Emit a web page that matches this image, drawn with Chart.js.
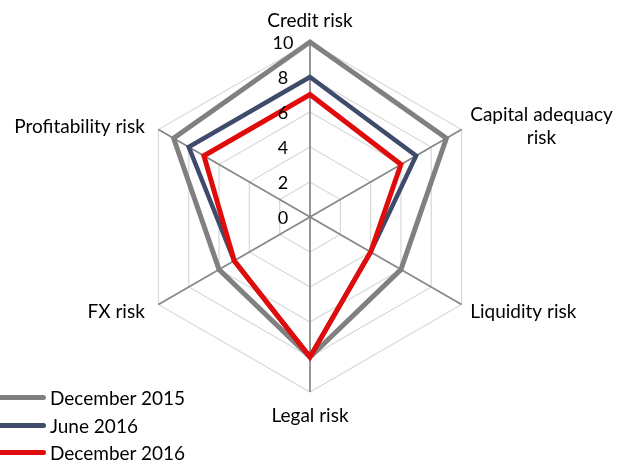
<!DOCTYPE html>
<html>
<head>
<meta charset="utf-8">
<script src="https://cdn.jsdelivr.net/npm/chart.js@4/dist/chart.umd.min.js"></script>
<style>
    html, body { margin: 0; padding: 0; background: #fff; }
    #wrap { position: relative; width: 619px; height: 464px; }
    #legend { position: absolute; left: 0; top: 384px; font: 19px Lato, sans-serif; color: #000; }
    #legend .row { display: flex; align-items: center; height: 27.5px; }
    #legend .swatch { width: 46px; height: 5px; border-radius: 0 3px 3px 0; margin-right: 4px; }
</style>
</head>
<body>
<div id="wrap">
    <canvas id="chart"></canvas>
    <div id="legend"></div>
</div>
<script>
    'use strict';

    var categories = ['Credit risk', ['Capital adequacy', 'risk'], 'Liquidity risk', 'Legal risk', 'FX risk', 'Profitability risk'];
    var seriesNames = ['December 2015', 'June 2016', 'December 2016'];
    var december2015 = [10, 9, 6, 8, 6, 9];
    var june2016 = [8, 7, 4, 8, 5, 8];
    var december2016 = [7, 6, 4, 8, 5, 7];
    var tickValues = [0, 2, 4, 6, 8, 10];

    var labelFont = '19px Lato, sans-serif';
    var tickFont = '18px Lato, sans-serif';

    // draws tick numbers beside the vertical spoke and centred category labels
    var labelsPlugin = {
        id: 'riskLabels',
        afterDraw: function (chart) {
            var scale = chart.scales.r;
            var ctx = chart.ctx;
            ctx.save();
            ctx.fillStyle = '#000';

            ctx.font = tickFont;
            ctx.textAlign = 'center';
            ctx.textBaseline = 'middle';
            tickValues.forEach(function (value) {
                var y = scale.yCenter - scale.getDistanceFromCenterForValue(value);
                ctx.fillText(String(value), scale.xCenter - 27, y + 1);
            });

            ctx.font = labelFont;
            var lineHeight = 23;
            chart.data.labels.forEach(function (label, i) {
                var lines = Array.isArray(label) ? label : [label];
                var pos = scale.getPointPosition(i, scale.drawingArea + 10);
                var widths = lines.map(function (l) { return ctx.measureText(l).width; });
                var blockWidth = Math.max.apply(null, widths);
                var blockHeight = lines.length * lineHeight;
                var dx = pos.x - scale.xCenter;
                var dy = pos.y - scale.yCenter;
                var left;
                if (dx > 1) {
                    left = pos.x;
                } else if (dx < -1) {
                    left = pos.x - blockWidth - 5;
                } else {
                    left = pos.x - blockWidth / 2;
                }
                var top;
                if (Math.abs(dx) <= 1 && dy < 0) {
                    top = pos.y - blockHeight;
                } else if (Math.abs(dx) <= 1 && dy > 0) {
                    top = pos.y + 2;
                } else {
                    top = pos.y - blockHeight / 2 + 2;
                }
                ctx.textAlign = 'center';
                ctx.textBaseline = 'middle';
                lines.forEach(function (l, k) {
                    ctx.fillText(l, left + blockWidth / 2, top + lineHeight * (k + 0.5));
                });
            });
            ctx.restore();
        }
    };

    var makeDataset = function (name, values, color, width, order) {
        return {
            label: name,
            data: values,
            borderColor: color,
            backgroundColor: color,
            borderWidth: width,
            borderJoinStyle: 'miter',
            pointRadius: 0,
            pointHoverRadius: 0,
            fill: false,
            order: order
        };
    };

    var datasets = [
        makeDataset(seriesNames[0], december2015, '#808080', 5, 3),
        makeDataset(seriesNames[1], june2016, '#3e4b6a', 4.5, 2),
        makeDataset(seriesNames[2], december2016, '#e00c0c', 5, 1)
    ];

    var chart = new Chart(document.getElementById('chart'), {
        type: 'radar',
        data: {
            labels: categories,
            datasets: datasets
        },
        options: {
            responsive: true,
            maintainAspectRatio: false,
            animation: false,
            layout: {
                padding: { left: 100, right: 99, top: 42, bottom: 72 }
            },
            plugins: {
                legend: { display: false },
                tooltip: { enabled: false }
            },
            scales: {
                r: {
                    min: 0,
                    max: 10,
                    ticks: { stepSize: 2, display: false },
                    pointLabels: { display: false },
                    grid: { color: '#d9d9d9', lineWidth: 1.25 },
                    angleLines: { color: '#878787', lineWidth: 1.75 }
                }
            }
        },
        plugins: [labelsPlugin]
    });

    var legend = document.getElementById('legend');
    datasets.forEach(function (ds) {
        var row = document.createElement('div');
        row.className = 'row';
        var swatch = document.createElement('span');
        swatch.className = 'swatch';
        swatch.style.background = ds.borderColor;
        var text = document.createElement('span');
        text.textContent = ds.label;
        row.appendChild(swatch);
        row.appendChild(text);
        legend.appendChild(row);
    });
</script>
</body>
</html>
